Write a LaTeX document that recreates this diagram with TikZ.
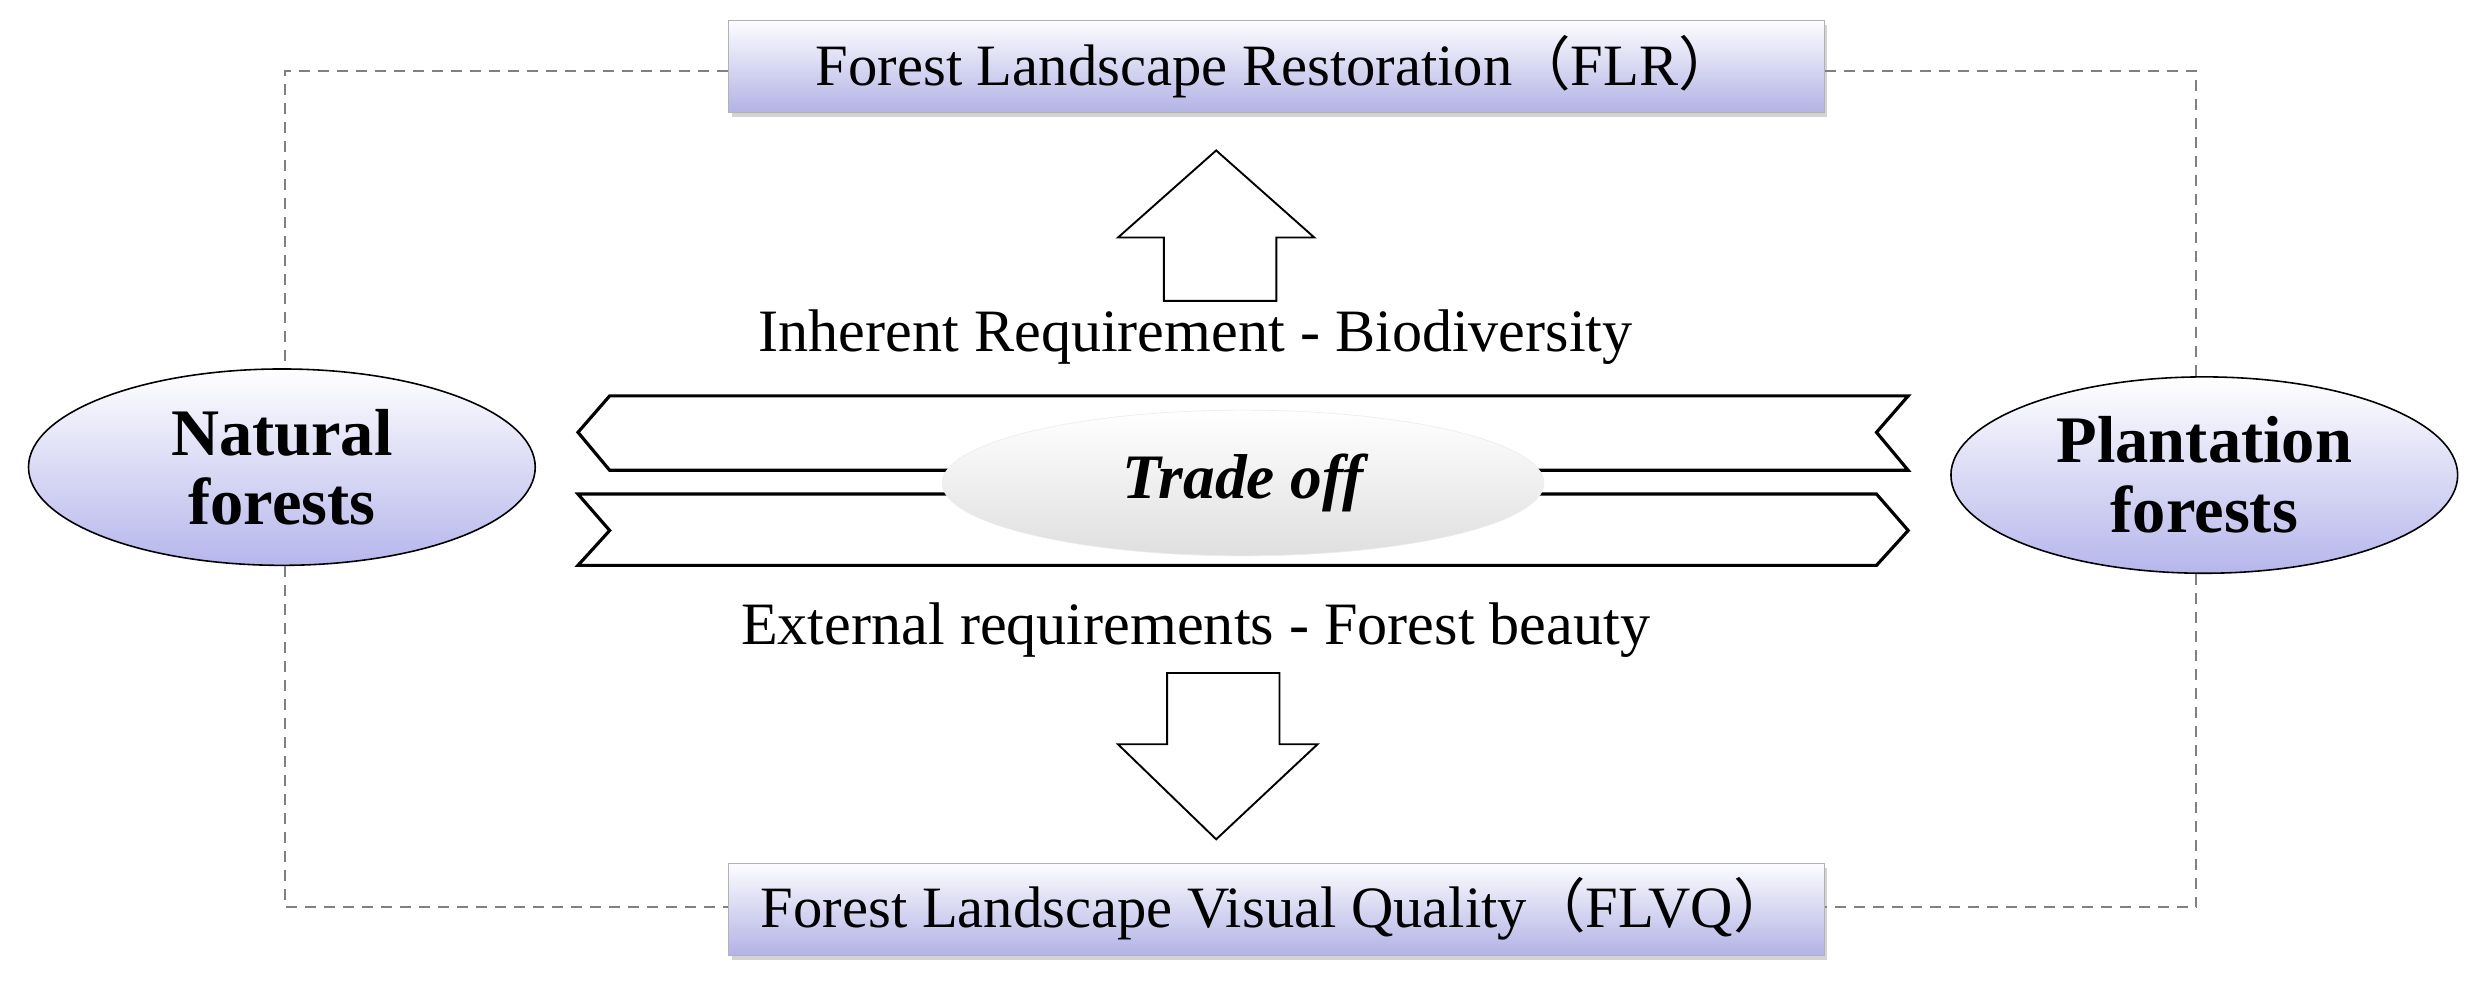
\documentclass[tikz,border=0pt]{standalone}
\usepackage{fontspec}
\setmainfont{Liberation Serif}
\newfontfamily\cjk{Noto Sans CJK SC}
\usetikzlibrary{shapes.geometric,shadows}
\begin{document}
\begin{tikzpicture}[x=1pt,y=-1pt,
  boxs/.style={draw=gray!60,top color=white!90!blue!10,bottom color=blue!25!white!80!gray,minimum width=692pt,minimum height=58pt,inner sep=0pt,drop shadow={opacity=0.35,shadow xshift=2pt,shadow yshift=-3pt},font=\fontsize{37}{40}\selectfont},
  ell/.style={ellipse,draw=black,line width=1pt,top color=white,bottom color=blue!25!white!85!gray,minimum width=320pt,minimum height=124pt,inner sep=0pt,align=center,font=\bfseries\fontsize{42}{44}\selectfont},
  dsh/.style={dashed,gray,line width=1.2pt,dash pattern=on 7pt off 5pt},
  hol/.style={draw=black,line width=1.2pt,fill=white},
  lbl/.style={font=\fontsize{38}{40}\selectfont}]
\useasboundingbox (0,0) rectangle (1568,630);
\node[boxs] (top) at (806,42) {Forest Landscape Restoration{\cjk （}FLR{\cjk ）}};
\node[boxs] (bot) at (806,574) {Forest Landscape Visual Quality{\cjk （}FLVQ{\cjk ）}};
\node[ell] (nat) at (178,295) {Natural\\forests};
\node[ell] (pla) at (1392,300) {Plantation\\forests};
\coordinate (tl) at (180,45); \coordinate (tr) at (1387,45);
\coordinate (bl) at (180,573); \coordinate (br) at (1387,573);
\draw[dsh] (top.west |- tl) -- (tl) -- (nat.north -| tl);
\draw[dsh] (nat.south -| bl) -- (bl) -- (bot.west |- bl);
\draw[dsh] (top.east |- tr) -- (tr) -- (pla.north -| tr);
\draw[dsh] (pla.south -| br) -- (br) -- (bot.east |- br);
% hollow arrows
\draw[hol] (735,190) -- (735,150) -- (706,150) -- (768,95) -- (830,150) -- (806,150) -- (806,190) -- cycle;
\draw[hol] (737,425) -- (737,470) -- (706,470) -- (768,530) -- (832,470) -- (808,470) -- (808,425) -- cycle;
\node[lbl] (inh) at (755,213) {Inherent Requirement - Biodiversity};
\node[lbl] (ext) at (755,398) {External requirements - Forest beauty};
% ribbons
\draw[hol,line width=2pt] (365,273) -- (385,250) -- (1205,250) -- (1185,273) -- (1205,297) -- (385,297) -- cycle;
\draw[hol,line width=2pt] (365,312) -- (1185,312) -- (1205,335) -- (1185,357) -- (365,357) -- (385,335) -- cycle;
\node[ellipse,minimum width=380pt,minimum height=92pt,inner sep=0pt,top color=white,bottom color=gray!25,draw=gray!15,font=\bfseries\itshape\fontsize{40}{44}\selectfont] (tro) at (785,305) {Trade off};
\end{tikzpicture}
\end{document}
